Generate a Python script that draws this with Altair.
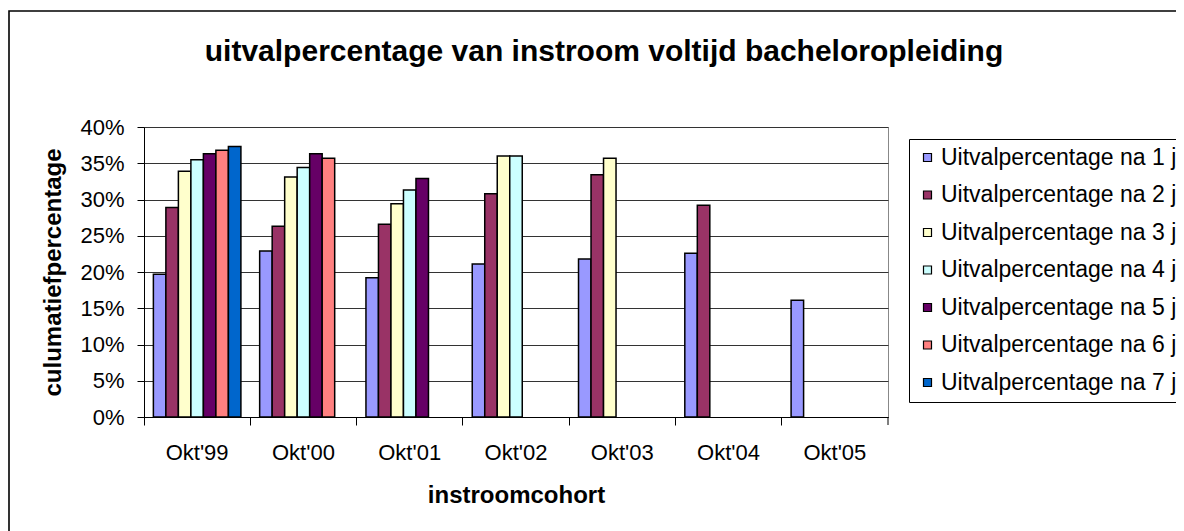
import altair as alt
import pandas as pd

cohorts = ["Okt'99", "Okt'00", "Okt'01", "Okt'02", "Okt'03", "Okt'04", "Okt'05"]
series = [
    "Uitvalpercentage na 1 jr",
    "Uitvalpercentage na 2 jr",
    "Uitvalpercentage na 3 jr",
    "Uitvalpercentage na 4 jr",
    "Uitvalpercentage na 5 jr",
    "Uitvalpercentage na 6 jr",
    "Uitvalpercentage na 7 jr",
]
na1 = [19.7, 22.9, 19.2, 21.1, 21.8, 22.6, 16.1]
na2 = [28.9, 26.3, 26.6, 30.8, 33.4, 29.2, None]
na3 = [33.9, 33.1, 29.4, 36.0, 35.7, None, None]
na4 = [35.5, 34.4, 31.3, 36.0, None, None, None]
na5 = [36.3, 36.3, 32.9, None, None, None, None]
na6 = [36.8, 35.7, None, None, None, None, None]
na7 = [37.3, None, None, None, None, None, None]
colors = ["#9999FF", "#993366", "#FFFFCC", "#CCFFFF", "#660066", "#FF8080", "#0066CC"]
title_text = "uitvalpercentage van instroom voltijd bacheloropleiding"

rows = []
for s, vals in zip(series, [na1, na2, na3, na4, na5, na6, na7]):
    for c, v in zip(cohorts, vals):
        if v is not None:
            rows.append({"cohort": c, "series": s, "value": v / 100})
df = pd.DataFrame(rows)

W, H = 744, 290
FONT = "Liberation Sans"

bars = alt.Chart(df).mark_bar(stroke="black", strokeWidth=1.5).encode(
    x=alt.X(
        "cohort:N",
        sort=cohorts,
        scale=alt.Scale(domain=cohorts, paddingInner=0, paddingOuter=0),
        axis=alt.Axis(
            title="instroomcohort",
            labelAngle=0,
            bandPosition=0,
            labelOffset=0,
            tickSize=8,
            labelPadding=17,
            titlePadding=20,
            grid=False,
        ),
    ),
    xOffset=alt.XOffset(
        "series:N",
        sort=series,
        scale=alt.Scale(domain=series, paddingInner=0, paddingOuter=0.75),
    ),
    y=alt.Y(
        "value:Q",
        scale=alt.Scale(domain=[0, 0.4], nice=False),
        axis=alt.Axis(
            title="culumatiefpercentage",
            values=[0, 0.05, 0.1, 0.15, 0.2, 0.25, 0.3, 0.35, 0.4],
            format=".0%",
            tickSize=7,
            labelPadding=13,
            titlePadding=14,
            grid=True,
        ),
    ),
    color=alt.Color(
        "series:N",
        sort=series,
        scale=alt.Scale(domain=series, range=colors),
        legend=alt.Legend(
            title=None,
            orient="none",
            legendX=765,
            legendY=12,
            strokeColor="black",
            fillColor="white",
            padding=7,
            symbolType="square",
            symbolSize=64,
            symbolStrokeColor="black",
            symbolStrokeWidth=1.2,
            labelFontSize=23,
            labelOffset=2,
            rowPadding=13.5,
            labelLimit=500,
        ),
    ),
)

one = pd.DataFrame({"k": [0]})

frame = alt.Chart(one).mark_rect(fillOpacity=0, stroke="black", strokeWidth=1.6).encode(
    x=alt.value(-135), x2=alt.value(1200), y=alt.value(-116), y2=alt.value(600)
)

title = alt.Chart(one).mark_text(
    text=title_text, font=FONT, fontSize=30, fontWeight="bold",
    align="center", baseline="alphabetic", color="black",
).encode(x=alt.value(460), y=alt.value(-66))

last_tick = alt.Chart(one).mark_rule(color="black", strokeWidth=1).encode(
    x=alt.value(W), y=alt.value(H), y2=alt.value(H + 8)
)

chart = alt.layer(frame, title, bars, last_tick).properties(
    width=W,
    height=H,
    autosize=alt.AutoSizeParams(type="none"),
    padding={"left": 136, "top": 119, "right": 288, "bottom": 114},
).configure(
    font=FONT,
    background="white",
).configure_view(
    stroke="#888888", strokeWidth=1
).configure_axis(
    labelFont=FONT, titleFont=FONT, labelFontSize=22, titleFontSize=24,
    titleFontWeight="bold", labelColor="black", titleColor="black",
    domainColor="black", tickColor="black", gridColor="#333333", gridWidth=1,
    domainWidth=1, tickWidth=1,
).configure_legend(
    labelFont=FONT, labelColor="black"
)

chart.save("out.html", embed_options={"renderer": "svg", "actions": False})
